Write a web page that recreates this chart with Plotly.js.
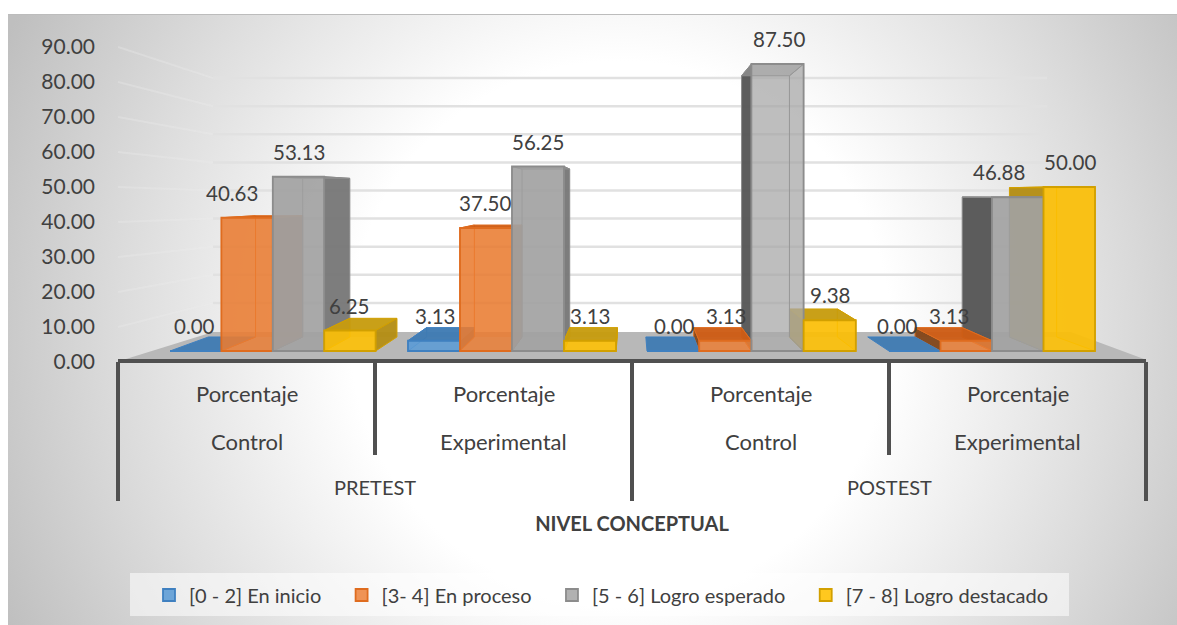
<!DOCTYPE html>
<html>
<head>
<meta charset="utf-8">
<script src="https://cdn.plot.ly/plotly-3.0.1.min.js"></script>
<style>
  html, body { margin: 0; padding: 0; background: #fff; width: 1177px; height: 625px; overflow: hidden; }
  #card { position: absolute; left: 8px; top: 14px; width: 1169px; height: 611px;
          border-top: 1px solid #bcbcbc; box-sizing: border-box;
          background: radial-gradient(circle at 612px 316px, #ffffff 0px, #ffffff 270px, #dcdcdc 500px, #bfbfbf 680px); }
  #chart { position: absolute; left: 0; top: 0; width: 1177px; height: 625px; }
</style>
</head>
<body>
<div id="card"></div>
<div id="chart"></div>
<script>
// Survey results: share of students per achievement band, by test and cohort.
const testNames = ['PRETEST', 'POSTEST'];
const cohortLines = ['Porcentaje', 'Porcentaje', 'Porcentaje', 'Porcentaje'];
const cohortNames = ['Control', 'Experimental', 'Control', 'Experimental'];
const axisTicks = [0, 10, 20, 30, 40, 50, 60, 70, 80, 90];

const enInicio = [0.00, 3.13, 0.00, 0.00];
const enProceso = [40.63, 37.50, 3.13, 3.13];
const logroEsperado = [53.13, 56.25, 87.50, 46.88];
const logroDestacado = [6.25, 3.13, 9.38, 50.00];

const bandNames = ['[0 - 2] En inicio', '[3- 4] En proceso', '[5 - 6] Logro esperado', '[7 - 8] Logro destacado'];
const bandValues = [enInicio, enProceso, logroEsperado, logroDestacado];

// Look of each band: front face, outline, top face, outer sides, inner side
const bandStyles = [
  { front: 'rgba(91,155,213,0.88)', line: '#3f80c0', top: 'rgba(62,122,178,0.95)', outerL: 'rgba(48,96,140,0.95)', outerR: 'rgba(48,96,140,0.95)', inner: 'rgba(91,155,213,0.3)' },
  { front: 'rgba(237,125,49,0.82)', line: '#df6c1f', top: 'rgba(205,92,20,0.95)', outerL: 'rgba(130,70,25,0.95)', outerR: 'rgba(180,90,30,0.9)', inner: 'rgba(190,120,70,0.35)' },
  { front: 'rgba(160,160,160,0.82)', line: '#8c8c8c', top: 'rgba(150,150,150,0.7)', outerL: 'rgba(80,80,80,0.9)', outerR: 'rgba(115,115,115,0.9)', inner: 'rgba(175,175,175,0.55)' },
  { front: 'rgba(255,192,0,0.88)', line: '#d2a000', top: 'rgba(200,155,10,0.92)', outerL: 'rgba(180,140,15,0.92)', outerR: 'rgba(180,140,15,0.92)', inner: 'rgba(175,165,120,0.45)' }
];
const tallBarFront = 'rgba(165,165,165,0.45)';

// Page geometry of the pseudo-3D scene
const plotLeft = 118, plotRight = 1146, plotBottom = 370, pageHeight = 625;
const baseY = 351, barPxPerUnit = 3.28, tickPxPerUnit = 3.5, tickZeroY = 362;
const groupStart = [170, 408, 647, 889];
const slotWidth = [51.4, 52, 52.2, 51.5];
const vanishX = 633, depthX = 0.917, depthY = 0.91, liftY = 4.28;
const labelNudge = [[-1, -15, 0, 0], [1, -1, 0, 0], [1.5, 1.5, 1.5, 1], [-17, -17, -19, 1]];

const pxToValue = py => (baseY - py) / barPxPerUnit;
const paperY = py => (plotBottom - py) / plotBottom;
const backX = x => vanishX + depthX * (x - vanishX);
const backV = v => liftY + depthY * v;
const poly = pts => 'M' + pts.map(p => p[0] + ',' + p[1]).join('L') + 'Z';

const shapes = [];
function face(pts, fill, line, width) {
  shapes.push({ type: 'path', path: poly(pts), xref: 'x', yref: 'y', layer: 'below',
                fillcolor: fill, line: { color: line, width: width === undefined ? 1 : width } });
}

// Gridlines: a pale run along the left wall, a firmer one across the back wall
const wallLeft = 213, wallRight = 1047;
axisTicks.slice(1).forEach(t => {
  const yLeft = pxToValue(tickZeroY - tickPxPerUnit * t);
  const yBack = pxToValue(331 - 2.81 * t);
  shapes.push({ type: 'line', xref: 'x', yref: 'y', layer: 'below', x0: plotLeft, x1: wallLeft, y0: yLeft, y1: yBack,
                line: { color: 'rgba(235,235,235,0.32)', width: 2 } });
  shapes.push({ type: 'line', xref: 'x', yref: 'y', layer: 'below', x0: wallLeft, x1: wallRight, y0: yBack, y1: yBack,
                line: { color: '#e1e1e1', width: 2.5 } });
});

// Floor plate
face([[plotLeft + 8, pxToValue(359)], [plotRight - 2, pxToValue(359)], [1071, pxToValue(332)], [wallLeft, pxToValue(332)]],
     '#b8b8b8', 'rgba(0,0,0,0)', 0);

// Extruded faces behind each front bar; nearer bars are painted later
cohortNames.forEach((_, g) => {
  const order = g < 2 ? [0, 1, 2, 3] : [3, 2, 1, 0];
  order.forEach(s => {
    const st = bandStyles[s], v = bandValues[s][g];
    const x0 = groupStart[g] + slotWidth[g] * s, x1 = x0 + slotWidth[g];
    const bx0 = backX(x0), bx1 = backX(x1), b0 = backV(0), bt = backV(v);
    if (v > 0) {
      face([[bx0, b0], [bx1, b0], [bx1, bt], [bx0, bt]], st.inner, 'rgba(0,0,0,0)', 0);
      face([[x0, 0], [bx0, b0], [bx0, bt], [x0, v]], bx0 > x0 ? st.inner : st.outerL, st.line, 1);
      face([[x1, 0], [bx1, b0], [bx1, bt], [x1, v]], bx1 < x1 ? st.inner : st.outerR, st.line, 1);
    }
    face([[x0, v], [x1, v], [bx1, bt], [bx0, bt]], st.top, st.line, 1);
  });
});

// Front faces are real bars, one trace per band; the padded name spaces the legend row
const legendPad = '\u00a0\u00a0\u00a0';
const traces = bandNames.map((name, s) => ({
  type: 'bar', name: name + legendPad,
  x: cohortNames.map((_, g) => groupStart[g] + slotWidth[g] * (s + 0.5)),
  y: bandValues[s],
  width: cohortNames.map((_, g) => slotWidth[g]),
  marker: {
    color: cohortNames.map((_, g) => (s === 2 && g === 2) ? tallBarFront : bandStyles[s].front),
    line: { color: bandStyles[s].line, width: 1.8 }
  },
  hovertemplate: '%{y:.2f}<extra>' + name + '</extra>'
}));

// Carries the printed value scale, which runs on its own spacing
traces.push({ type: 'scatter', mode: 'markers', x: [plotLeft], y: [axisTicks[0]], yaxis: 'y2',
              marker: { opacity: 0, size: 1 }, showlegend: false, hoverinfo: 'skip' });

const textColor = '#404040';
const annotations = [];
bandValues.forEach((vals, s) => vals.forEach((v, g) => {
  annotations.push({ xref: 'x', yref: 'y', x: groupStart[g] + slotWidth[g] * (s + 0.5) + labelNudge[g][s], y: v,
                     text: v.toFixed(2), showarrow: false, yanchor: 'bottom', yshift: 11,
                     font: { size: 20.5, color: textColor } });
}));

// Two-level category labels under the floor
const groupCentre = i => plotLeft + (plotRight - plotLeft) * (i + 0.5) / 4;
cohortNames.forEach((c, i) => {
  annotations.push({ xref: 'x', yref: 'paper', x: groupCentre(i), y: paperY(393), yanchor: 'middle', text: cohortLines[i], showarrow: false, font: { size: 22, color: textColor } });
  annotations.push({ xref: 'x', yref: 'paper', x: groupCentre(i), y: paperY(441), yanchor: 'middle', text: c, showarrow: false, font: { size: 22, color: textColor } });
});
testNames.forEach((t, i) => {
  annotations.push({ xref: 'x', yref: 'paper', x: plotLeft + (plotRight - plotLeft) * (i * 2 + 1) / 4, y: paperY(487), yanchor: 'middle', text: t, showarrow: false, font: { size: 20, color: textColor } });
});

// Band behind the legend
shapes.push({ type: 'rect', xref: 'paper', yref: 'paper', layer: 'below',
              x0: (130 - plotLeft) / (plotRight - plotLeft), x1: (1069 - plotLeft) / (plotRight - plotLeft),
              y0: paperY(616), y1: paperY(573),
              fillcolor: 'rgba(255,255,255,0.55)', line: { width: 0 } });

const layout = {
  width: 1177, height: pageHeight,
  margin: { l: plotLeft, r: 1177 - plotRight, t: 0, b: pageHeight - plotBottom, pad: 0 },
  paper_bgcolor: 'rgba(0,0,0,0)', plot_bgcolor: 'rgba(0,0,0,0)',
  font: { family: 'Lato, "Open Sans", sans-serif', color: textColor },
  barmode: 'overlay', showlegend: true, hovermode: 'closest',
  xaxis: {
    range: [plotLeft, plotRight], anchor: 'free', position: paperY(360.5),
    showgrid: false, zeroline: false, showticklabels: false,
    showline: true, linecolor: '#505050', linewidth: 3.5,
    ticks: 'outside', tickmode: 'array', tickvals: [118, 632, 1146], ticklen: 139, tickwidth: 3.5, tickcolor: '#505050',
    minor: { ticks: 'outside', tickmode: 'array', tickvals: [375, 889], ticklen: 93, tickwidth: 3.5, tickcolor: '#505050' },
    title: { text: '<b>NIVEL CONCEPTUAL</b>', standoff: 16, font: { size: 20, color: textColor } }
  },
  yaxis: { visible: false, range: [pxToValue(plotBottom), pxToValue(0)], fixedrange: true },
  yaxis2: {
    overlaying: 'y', side: 'left', anchor: 'x',
    range: [(tickZeroY - plotBottom) / tickPxPerUnit, tickZeroY / tickPxPerUnit],
    tickmode: 'array', tickvals: axisTicks, tickformat: '.2f',
    showgrid: false, zeroline: false, showline: false, ticks: '', ticklabelstandoff: 22,
    tickfont: { size: 21, color: textColor }, fixedrange: true
  },
  legend: {
    orientation: 'h', xanchor: 'left', yanchor: 'middle',
    x: (149 - plotLeft) / (plotRight - plotLeft), y: paperY(595),
    bgcolor: 'rgba(0,0,0,0)', itemwidth: 30, traceorder: 'normal',
    font: { size: 20, color: textColor }
  },
  shapes: shapes, annotations: annotations
};

Plotly.newPlot('chart', traces, layout, { displayModeBar: false, staticPlot: false });
</script>
</body>
</html>
